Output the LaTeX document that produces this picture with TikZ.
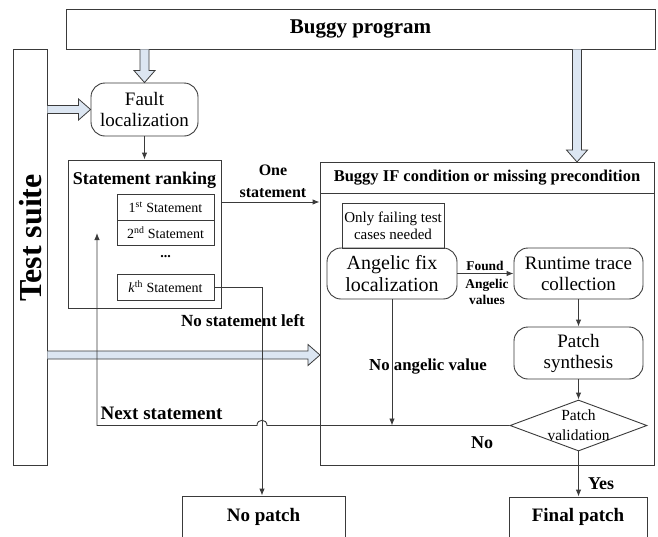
\documentclass[tikz,border=0pt]{standalone}
\usepackage{fontspec}
\setmainfont{Liberation Serif}
\usetikzlibrary{arrows.meta,shapes.geometric,calc}
\definecolor{ln}{HTML}{3A3A3A}
\definecolor{hb}{HTML}{DCE6F2}
\newcommand\fs[2]{\fontsize{#1}{#2}\selectfont}
\newcommand\hdown[2]{\path[harrow] let \p1=(#1), \p2=(#2) in (\x1-4.5pt,\y1) -- (\x1-4.5pt,\y2+12pt) -- (\x1-10.5pt,\y2+12pt) -- (\x1,\y2) -- (\x1+10.5pt,\y2+12pt) -- (\x1+4.5pt,\y2+12pt) -- (\x1+4.5pt,\y1);}
\newcommand\hright[2]{\path[harrow] let \p1=(#1), \p2=(#2) in (\x1,\y1+4pt) -- (\x2-12pt,\y1+4pt) -- (\x2-12pt,\y1+10.5pt) -- (\x2,\y1) -- (\x2-12pt,\y1-10.5pt) -- (\x2-12pt,\y1-4pt) -- (\x1,\y1-4pt);}
\begin{document}
\begin{tikzpicture}[x=1pt,y=-1pt, line width=0.9pt,
  box/.style={draw=ln, rectangle, inner sep=0pt, align=center},
  rbox/.style={box, rounded corners=14pt},
  lbl/.style={inner sep=0pt, align=center},
  arr/.style={draw=ln, -{Latex[length=7pt,width=5.5pt]}},
  harrow/.style={draw=ln, fill=hb, line width=0.8pt}]
\useasboundingbox (0,0) rectangle (658,536);
% boxes
\node[box, minimum width=589pt, minimum height=40pt, font=\bfseries\fs{21}{23}] (bp) at (360.5,29) {Buggy program};
\node[box, minimum width=34pt, minimum height=416pt] (ts) at (30,257) {};
\node[lbl, rotate=90, font=\bfseries\fs{32}{34}] (tst) at (31,238) {Test suite};
\node[rbox, minimum width=107pt, minimum height=53pt, font=\fs{19}{21}] (fl) at (144.5,109.5) {Fault\\localization};
\node[box, minimum width=153pt, minimum height=148pt] (sr) at (144.5,234) {};
\node[lbl, font=\bfseries\fs{18}{20}] (srt) at (144.5,180) {Statement ranking};
\node[box, minimum width=97pt, minimum height=25.5pt, font=\fs{14}{16}] (s1) at (165.5,207.5) {1\textsuperscript{st} Statement};
\node[box, minimum width=97pt, minimum height=25.5pt, font=\fs{14}{16}] (s2) at (165.5,233) {2\textsuperscript{nd} Statement};
\node[lbl, font=\bfseries\fs{14}{16}] (dots) at (165.5,257) {...};
\node[box, minimum width=97pt, minimum height=26pt, font=\fs{14}{16}] (sk) at (165.5,287) {\textit{k}\textsuperscript{th} Statement};
\node[box, minimum width=334pt, minimum height=303pt] (ifb) at (487,313.5) {};
\node[box, minimum width=334pt, minimum height=31pt, font=\bfseries\fs{16.5}{18}] (ifh) at (487,177.5) {Buggy IF condition or missing precondition};
\node[box, minimum width=102pt, minimum height=45pt, font=\fs{15}{17}] (ofc) at (393,225.5) {Only failing test\\cases needed};
\node[rbox, minimum width=130pt, minimum height=51pt, font=\fs{20}{22}] (afl) at (392,273.5) {Angelic fix\\localization};
\node[rbox, minimum width=129pt, minimum height=51pt, font=\fs{19}{21}] (rtc) at (578.5,273.5) {Runtime trace\\collection};
\node[rbox, minimum width=129pt, minimum height=52pt, font=\fs{19}{21}] (ps) at (578.5,353) {Patch\\synthesis};
\node[diamond, draw=ln, minimum width=137pt, minimum height=51pt, inner sep=0pt] (pv) at (578.5,425.5) {};
\node[lbl, font=\fs{15.5}{20}] (pvt) at (578.5,425) {Patch\\validation};
\node[box, minimum width=163pt, minimum height=60pt] (np) at (263.5,526) {};
\node[lbl, font=\bfseries\fs{19}{21}] (npt) at (263.5,517) {No patch};
\node[box, minimum width=138pt, minimum height=60pt] (fp) at (578,527) {};
\node[lbl, font=\bfseries\fs{19}{21}] (fpt) at (578,517) {Final patch};
% hollow arrows
\coordinate (t2) at (577,162);
\coordinate (t4) at (320,355);
\hdown{bp.south -| fl.north}{fl.north}
\hdown{bp.south -| t2}{t2}
\hright{ts.east |- fl.west}{fl.west}
\hright{ts.east |- t4}{t4}
% connectors
\draw[arr] (fl.south) -- (sr.north);
\coordinate (os) at (221,202);
\draw[arr] (os) -- (os -| ifb.west);
\node[lbl, font=\bfseries\fs{16}{22}] (oslbl) at (273,181) {One\\statement};
\draw[arr] (afl.east) -- (rtc.west);
\node[lbl, font=\bfseries\fs{13.4}{16}] (fnd) at (485,266) {Found};
\node[lbl, font=\bfseries\fs{13.4}{16}] (anv) at (487,292) {Angelic\\values};
\draw[arr] (rtc.south) -- (ps.north);
\draw[arr] (ps.south) -- (pv.north);
\draw[arr] (pv.south) -- (pv.south |- fp.north);
\node[lbl, font=\bfseries\fs{18}{20}] (yes) at (601,484) {Yes};
\coordinate (nav) at (392,425.5);
\draw[arr] (afl.south) -- (nav);
\node[lbl, font=\bfseries\fs{16.8}{20}] (navl) at (428,367) {No angelic value};
\node[lbl, font=\bfseries\fs{18}{20}] (nol) at (482,443) {No};
\coordinate (j1) at (267,425.5);
\coordinate (j2) at (257,425.5);
\coordinate (nsb) at (97,425.5);
\coordinate (nst) at (97,233);
\draw[arr] (pv.west) -- (j1) .. controls ($(j1)+(0,-7)$) and ($(j2)+(0,-7)$) .. (j2) -- (nsb) -- (nst);
\node[lbl, font=\bfseries\fs{19}{21}] (nsl) at (161.5,413) {Next statement};
\coordinate (ns) at (262,287);
\draw[arr] (sk.east) -- (ns) -- (ns |- np.north);
\node[lbl, font=\bfseries\fs{17}{20}] (nslft) at (243,321) {No statement left};
\end{tikzpicture}
\end{document}
